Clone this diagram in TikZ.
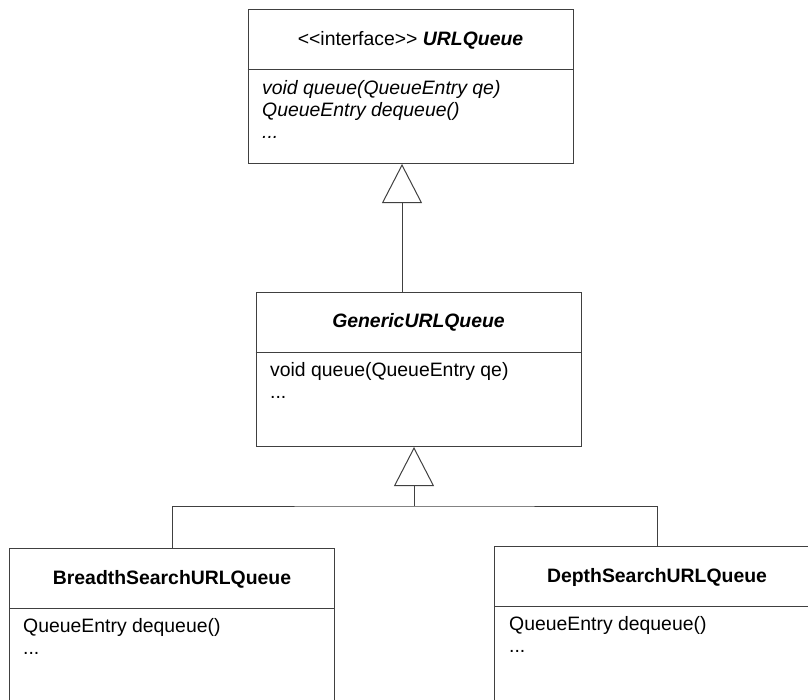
\documentclass[tikz,border=0pt]{standalone}
\usepackage{fontspec}
\newfontfamily\umlfont{Liberation Sans}
\usetikzlibrary{arrows.meta}

\begin{document}
\begin{tikzpicture}[x=1pt,y=-1pt,
  umlline/.style={draw=black!75,line width=1pt},
  classbox/.style={umlline,rectangle,anchor=north,inner sep=0pt,minimum width=325pt,minimum height=154pt},
  txt/.style={inner sep=0pt,font=\umlfont\fontsize{19.4}{22}\selectfont},
  inherits/.style={umlline,-{Triangle[open,length=39pt,width=40pt,line width=1pt]}}
]
\useasboundingbox (0,0) rectangle (808,699);
\clip (0,0) rectangle (808,699);

% class boxes (the two lower ones run past the bottom edge)
\node[classbox] (urlq) at (410.5,9) {};
\node[classbox] (gen)  at (418.5,292) {};
\node[classbox,minimum height=180pt] (bfs) at (172,548) {};
\node[classbox,minimum height=180pt] (dfs) at (657,546) {};

% compartment dividers, 60pt below each top edge
\foreach \b in {urlq,gen,bfs,dfs}
  \draw[umlline] ([yshift=-60pt]\b.north west) -- ([yshift=-60pt]\b.north east);

% interface URLQueue
\node[txt,anchor=base] (urlqname) at (410.5,45) {<{}<interface>{}> \textbf{\textit{URLQueue}}};
\node[txt,anchor=base west] (urlqm1) at (262,94)  {\textit{void queue(QueueEntry qe)}};
\node[txt,anchor=base west] (urlqm2) at (262,116) {\textit{QueueEntry dequeue()}};
\node[txt,anchor=base west] (urlqm3) at (262,138) {\textit{...}};

% abstract GenericURLQueue
\node[txt,anchor=base] (genname) at (418.5,327) {\textbf{\textit{GenericURLQueue}}};
\node[txt,anchor=base west] (genm1) at (270,376) {void queue(QueueEntry qe)};
\node[txt,anchor=base west] (genm2) at (270,398) {...};

% BreadthSearchURLQueue
\node[txt,anchor=base] (bfsname) at (172,584) {\textbf{BreadthSearchURLQueue}};
\node[txt,anchor=base west] (bfsm1) at (23,632) {QueueEntry dequeue()};
\node[txt,anchor=base west] (bfsm2) at (23,654) {...};

% DepthSearchURLQueue
\node[txt,anchor=base] (dfsname) at (657,582) {\textbf{DepthSearchURLQueue}};
\node[txt,anchor=base west] (dfsm1) at (509,630) {QueueEntry dequeue()};
\node[txt,anchor=base west] (dfsm2) at (509,652) {...};

% generalisation: GenericURLQueue -> URLQueue
\coordinate (up) at (402,0);
\draw[inherits] (gen.north -| up) -- (urlq.south -| up);

% generalisation: both search queues -> GenericURLQueue
\coordinate (bus) at (414,506);
\draw[umlline] (bfs.north) |- (bus) -| (dfs.north);
\draw[inherits] (bus) -- (gen.south -| bus);
\end{tikzpicture}
\end{document}
